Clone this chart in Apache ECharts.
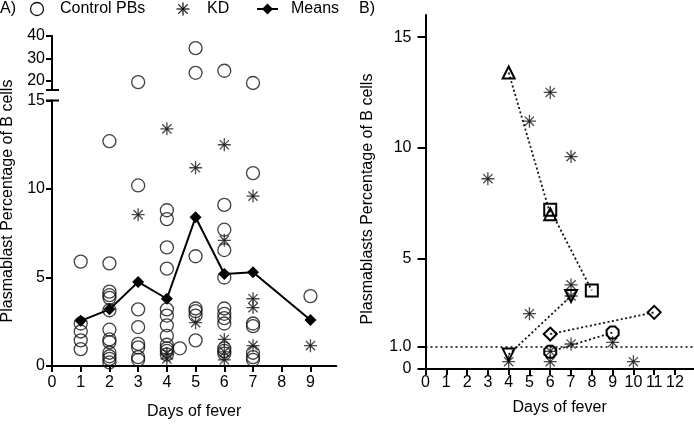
<!DOCTYPE html>
<html><head><meta charset="utf-8">
<script src="https://cdn.jsdelivr.net/npm/echarts@6/dist/echarts.min.js"></script>
<style>html,body{margin:0;padding:0;background:#fff}#c{width:694px;height:425px}</style>
</head><body><div id="c"></div>
<script>
// ---------------- data ----------------
// Panel A: control plasmablast percentages by day of fever
const controlDays = [
  1,1,1,1,1,
  2,2,2,2,2,2,2,2,2,2,2,2,2,
  3,3,3,3,3,3,3,3,
  4,4,4,4,4,4,4,4,4,4,4,4,
  4.45,
  5,5,5,5,5,5,5,
  6,6,6,6,6,6,6,6,6,6,6,6,
  7,7,7,7,7,7,7,
  9
];
const controlValues = [
  5.9,2.4,1.95,1.45,0.95,
  12.7,5.8,4.2,4.0,3.85,3.15,2.05,1.5,1.35,0.75,0.55,0.4,0.2,
  19.5,10.2,3.2,2.2,1.25,1.05,0.5,0.35,
  8.8,8.3,6.7,5.5,3.2,2.85,2.3,1.7,1.2,1.0,0.85,0.65,
  1.0,
  34.5,23.6,6.2,3.25,3.1,2.85,1.45,
  24.5,9.1,7.7,6.55,5.0,3.25,2.95,2.7,2.4,1.0,0.85,0.7,
  19.1,10.9,2.4,2.25,0.75,0.5,0.35,
  3.95
];
// Panel A: KD patients
const kdDays   = [3, 4,4,4, 5,5, 6,6,6,6,6, 7,7,7,7, 9];
const kdValues = [8.55, 13.4,0.7,0.4, 11.2,2.45, 12.5,7.1,1.5,0.8,0.35, 9.6,3.8,3.3,1.15, 1.15];
// Panel A: means
const meanDays   = [1,2,3,4,5,6,7,9];
const meanValues = [2.55,3.2,4.75,3.8,8.4,5.2,5.3,2.6];
// Panel A ticks
const leftXTicks = [0,1,2,3,4,5,6,7,8,9];
const leftLowYTicks = [0,5,10,15];
const leftHighYTicks = [20,30,40];
const breakLow = 15, breakHigh = 16;

// Panel B: single KD measurements
const rightKdDays   = [3,5,6,7,5,7,7,4,6,6,7,9,10];
const rightKdValues = [8.6,11.2,12.5,9.6,2.5,3.8,3.3,0.33,0.33,0.8,1.13,1.2,0.33];
// Panel B: paired patients (two time points each)
const pairTriangleDays = [4,6],  pairTriangleValues = [13.4,7.0];
const pairSquareDays   = [6,8],  pairSquareValues   = [7.2,3.55];
const pairInvTriDays   = [4,7],  pairInvTriValues   = [0.65,3.3];
const pairDiamondDays  = [6,11], pairDiamondValues  = [1.58,2.56];
const pairOctagonDays  = [6,9],  pairOctagonValues  = [0.78,1.65];
const rightXTicks = [0,1,2,3,4,5,6,7,8,9,10,11,12];
const rightYTicks = [0,1,5,10,15];
const thresholdValue = 1.0;

// ---------------- chart ----------------
const FONT = '"Liberation Sans", Arial, sans-serif';
const zip = (xs, ys) => xs.map((x, i) => [x, ys[i]]);
const STAR = 'path://M0,-10L0,10M-10,0L10,0M-7.07,-7.07L7.07,7.07M-7.07,7.07L7.07,-7.07M-1.6,-1.6L1.6,-1.6L1.6,1.6L-1.6,1.6Z';
const OCTA = 'path://M-4.14,-10L4.14,-10L10,-4.14L10,4.14L4.14,10L-4.14,10L-10,4.14L-10,-4.14Z';

const controlAll = zip(controlDays, controlValues);
const controlLow = controlAll.filter(p => p[1] <= breakLow);
const controlHigh = controlAll.filter(p => p[1] > breakLow);

const axisLineStyle = {color:'#000', width:2};
const labelStyle = {color:'#000', fontSize:16, fontFamily:FONT};

function pairSeries(days, vals, symbol, size, rotate) {
  return {
    type:'line', xAxisIndex:2, yAxisIndex:2, data: zip(days, vals),
    symbol: symbol, symbolSize: size, symbolRotate: rotate || 0, symbolKeepAspect: true,
    showAllSymbol: true,
    lineStyle:{color:'#111', width:1.8, type:[2,2.5]},
    itemStyle:{color:'rgba(255,255,255,0)', borderColor:'#000', borderWidth:2},
    z: 4
  };
}

const chart = echarts.init(document.getElementById('c'), null, {renderer:'canvas'});
chart.setOption({
  animation:false,
  backgroundColor:'#fff',
  grid:[
    {left:52, top:35.7, width:284.3, height:54.3},
    {left:52, top:100.5, width:284.3, height:267.8},
    {left:425.5, top:15, width:268.2, height:354}
  ],
  xAxis:[
    {gridIndex:0, type:'value', min:0, max:9.9, show:false},
    {gridIndex:1, type:'value', min:0, max:9.9,
      axisLine:{lineStyle:axisLineStyle},
      axisTick:{customValues:leftXTicks, length:6, lineStyle:{width:2, color:'#000'}},
      axisLabel:Object.assign({customValues:leftXTicks, margin:9}, labelStyle),
      splitLine:{show:false},
      name:'Days of fever', nameLocation:'middle', nameGap:38,
      nameTextStyle:{color:'#000', fontSize:16, fontFamily:FONT}},
    {gridIndex:2, type:'value', min:0, max:12.9,
      axisLine:{lineStyle:axisLineStyle},
      axisTick:{customValues:rightXTicks, length:6, lineStyle:{width:2, color:'#000'}},
      axisLabel:Object.assign({customValues:rightXTicks, margin:6}, labelStyle),
      splitLine:{show:false},
      name:'Days of fever', nameLocation:'middle', nameGap:31,
      nameTextStyle:{color:'#000', fontSize:16, fontFamily:FONT}}
  ],
  yAxis:[
    {gridIndex:0, type:'value', min:breakHigh, max:40,
      axisLine:{show:true, lineStyle:axisLineStyle},
      axisTick:{show:true, customValues:leftHighYTicks, length:6, lineStyle:{width:2, color:'#000'}},
      axisLabel:Object.assign({customValues:leftHighYTicks, margin:7}, labelStyle),
      splitLine:{show:false}},
    {gridIndex:1, type:'value', min:0, max:15, interval:5,
      axisLine:{show:true, lineStyle:axisLineStyle},
      axisTick:{show:true, customValues:leftLowYTicks, length:6, lineStyle:{width:2, color:'#000'}},
      axisLabel:Object.assign({customValues:leftLowYTicks, margin:7}, labelStyle),
      splitLine:{show:false}},
    {gridIndex:2, type:'value', min:0, max:16,
      axisLine:{show:true, lineStyle:axisLineStyle},
      axisTick:{show:true, customValues:rightYTicks, length:8, lineStyle:{width:2, color:'#000'}},
      axisLabel:Object.assign({customValues:rightYTicks, margin:14,
        formatter:v => (v === 1 ? '1.0' : String(v))}, labelStyle),
      splitLine:{show:false}}
  ],
  series:[
    {name:'Control PBs high', type:'scatter', xAxisIndex:0, yAxisIndex:0, data:controlHigh,
      symbol:'circle', symbolSize:13,
      itemStyle:{color:'rgba(255,255,255,0)', borderColor:'#111', borderWidth:1.3}},
    {name:'Control PBs', type:'scatter', xAxisIndex:1, yAxisIndex:1, data:controlLow,
      symbol:'circle', symbolSize:13,
      itemStyle:{color:'rgba(255,255,255,0)', borderColor:'#111', borderWidth:1.3}},
    {name:'KD', type:'scatter', xAxisIndex:1, yAxisIndex:1, data:zip(kdDays, kdValues),
      symbol:STAR, symbolSize:13,
      itemStyle:{color:'#000', borderColor:'#1a1a1a', borderWidth:1.3}},
    {name:'Means', type:'line', xAxisIndex:1, yAxisIndex:1, data:zip(meanDays, meanValues),
      symbol:'diamond', symbolSize:[12,12], showAllSymbol:true,
      lineStyle:{color:'#000', width:2},
      itemStyle:{color:'#000', borderColor:'#000', borderWidth:0}, z:5},
    {name:'KD B', type:'scatter', xAxisIndex:2, yAxisIndex:2, data:zip(rightKdDays, rightKdValues),
      symbol:STAR, symbolSize:13,
      itemStyle:{color:'#000', borderColor:'#1a1a1a', borderWidth:1.3},
      markLine:{silent:true, symbol:'none', label:{show:false},
        lineStyle:{color:'#000', width:1.6, type:[2,3]},
        data:[{yAxis:thresholdValue}]}},
    pairSeries(pairTriangleDays, pairTriangleValues, 'triangle', [12,12]),
    pairSeries(pairSquareDays, pairSquareValues, 'rect', [12,12]),
    pairSeries(pairInvTriDays, pairInvTriValues, 'triangle', [12,12], 180),
    pairSeries(pairDiamondDays, pairDiamondValues, 'diamond', [13,13]),
    pairSeries(pairOctagonDays, pairOctagonValues, OCTA, [12,12])
  ],
  graphic:[
    // axis break caps
    {type:'line', shape:{x1:46, y1:90, x2:59, y2:90}, style:{stroke:'#000', lineWidth:2}},
    {type:'line', shape:{x1:46, y1:100.5, x2:59, y2:100.5}, style:{stroke:'#000', lineWidth:2}},
    // y axis names
    {type:'text', x:8, y:201, rotation:Math.PI/2,
      style:{text:'Plasmablast Percentage of B cells', font:'16px ' + FONT, fill:'#000',
        textAlign:'center', textVerticalAlign:'middle', align:'center', verticalAlign:'middle'}},
    {type:'text', x:368, y:199, rotation:Math.PI/2,
      style:{text:'Plasmablasts Percentage of B cells', font:'16px ' + FONT, fill:'#000',
        textAlign:'center', textVerticalAlign:'middle', align:'center', verticalAlign:'middle'}},
    // panel labels
    {type:'text', x:0, y:9, style:{text:'A)', font:'16px ' + FONT, fill:'#000',
      textVerticalAlign:'middle', verticalAlign:'middle'}},
    {type:'text', x:359, y:9, style:{text:'B)', font:'16px ' + FONT, fill:'#000',
      textVerticalAlign:'middle', verticalAlign:'middle'}},
    // legend
    {type:'circle', shape:{cx:37, cy:9, r:6.5}, style:{fill:'none', stroke:'#111', lineWidth:1.3}},
    {type:'text', x:60, y:9, style:{text:'Control PBs', font:'16px ' + FONT, fill:'#000',
      textVerticalAlign:'middle', verticalAlign:'middle'}},
    {type:'group', x:183, y:9, children:[
      {type:'line', shape:{x1:0, y1:-6.5, x2:0, y2:6.5}, style:{stroke:'#1a1a1a', lineWidth:1.3}},
      {type:'line', shape:{x1:-6.5, y1:0, x2:6.5, y2:0}, style:{stroke:'#1a1a1a', lineWidth:1.3}},
      {type:'line', shape:{x1:-4.6, y1:-4.6, x2:4.6, y2:4.6}, style:{stroke:'#1a1a1a', lineWidth:1.3}},
      {type:'line', shape:{x1:-4.6, y1:4.6, x2:4.6, y2:-4.6}, style:{stroke:'#1a1a1a', lineWidth:1.3}},
      {type:'rect', shape:{x:-1, y:-1, width:2, height:2}, style:{fill:'#000'}}
    ]},
    {type:'text', x:207, y:9, style:{text:'KD', font:'16px ' + FONT, fill:'#000',
      textVerticalAlign:'middle', verticalAlign:'middle'}},
    {type:'line', shape:{x1:257, y1:9, x2:278, y2:9}, style:{stroke:'#000', lineWidth:2}},
    {type:'polygon', shape:{points:[[267.5,3.5],[273,9],[267.5,14.5],[262,9]]}, style:{fill:'#000'}},
    {type:'text', x:291, y:9, style:{text:'Means', font:'16px ' + FONT, fill:'#000',
      textVerticalAlign:'middle', verticalAlign:'middle'}}
  ]
});
</script>
</body></html>
